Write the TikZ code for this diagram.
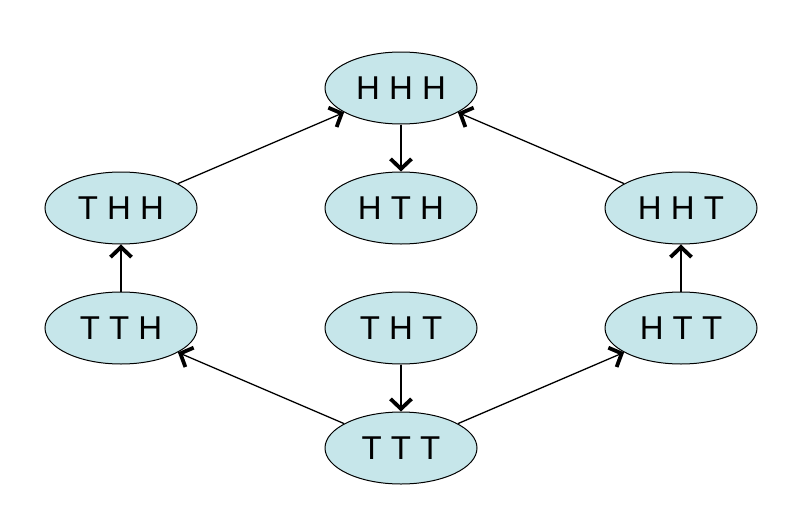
\documentclass[tikz,border=0pt]{standalone}
\usepackage{fontspec}
\setmainfont{Liberation Sans}
\usetikzlibrary{arrows.meta,shapes.geometric}
\definecolor{nodefill}{RGB}{198,230,234}
\begin{document}
\begin{tikzpicture}[x=1pt,y=-1pt,
  state/.style={ellipse,draw=black,line width=1pt,fill=nodefill,minimum width=152pt,minimum height=72pt,inner sep=0pt,font=\fontsize{33}{38}\selectfont},
  link/.style={line width=1.3pt,-{Straight Barb[length=10pt,width=21pt,line width=3.8pt]}}]
\useasboundingbox (0,0) rectangle (811,522);
\node[state] (HHH) at (401,88) {H H H};
\node[state] (THH) at (121,208) {T H H};
\node[state] (HTH) at (401,208) {H T H};
\node[state] (HHT) at (681,208) {H H T};
\node[state] (TTH) at (121,328) {T T H};
\node[state] (THT) at (401,328) {T H T};
\node[state] (HTT) at (681,328) {H T T};
\node[state] (TTT) at (401,448) {T T T};
\draw[link] (THH) -- (HHH);
\draw[link] (HHH) -- (HTH);
\draw[link] (HHT) -- (HHH);
\draw[link] (TTH) -- (THH);
\draw[link] (HTT) -- (HHT);
\draw[link] (THT) -- (TTT);
\draw[link] (TTT) -- (TTH);
\draw[link] (TTT) -- (HTT);
\end{tikzpicture}
\end{document}
